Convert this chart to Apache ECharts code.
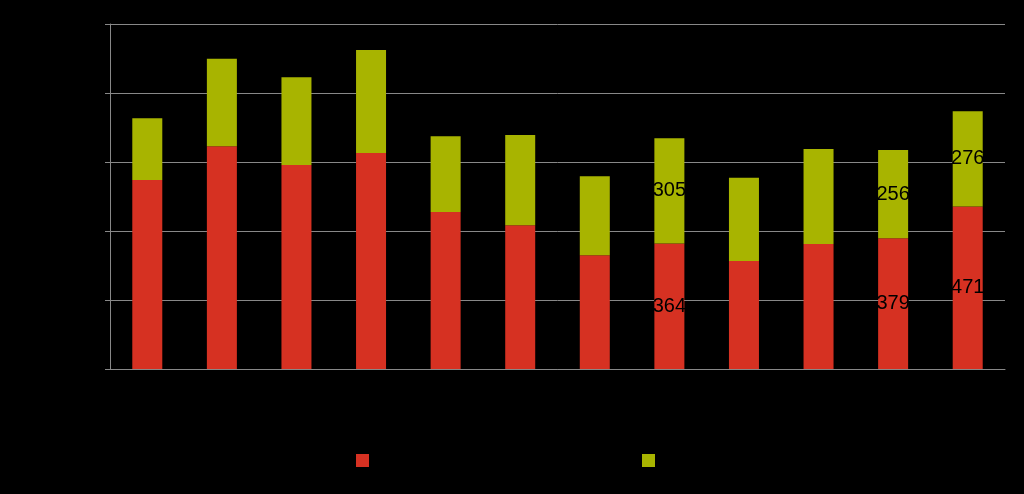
<!DOCTYPE html><html><head><meta charset="utf-8"><script src="https://cdn.jsdelivr.net/npm/echarts@6/dist/echarts.min.js"></script>
<style>html,body{margin:0;background:#000}#c{width:1024px;height:494px}</style></head><body><div id="c"></div><script>
const categories=['1','2','3','4','5','6','7','8','9','10','11','12'];
const redVals=[548,646,591,626,455,417,330,364,313,362,379,471];
const greenVals=[179,253,255,299,220,261,229,305,241,276,256,276];
const shownIdx=[7,10,11];
const lab=(vals)=>vals.map((v,i)=>({value:v,label:{show:shownIdx.includes(i)}}));
const c=echarts.init(document.getElementById('c'));
c.setOption({backgroundColor:'#000',animation:false,
grid:{left:110,right:19,top:24,bottom:125},
legend:{bottom:22,itemGap:260,itemWidth:13,itemHeight:13,icon:'rect',textStyle:{color:'#000'},data:['A','B']},
xAxis:{type:'category',data:categories,axisLine:{lineStyle:{color:'#888'}},axisTick:{alignWithLabel:true,lineStyle:{color:'#888'}},axisLabel:{color:'#000'}},
yAxis:{type:'value',min:0,max:1000,interval:200,axisLine:{show:true,lineStyle:{color:'#888'}},axisTick:{show:true,lineStyle:{color:'#888'}},axisLabel:{color:'#000'},splitLine:{lineStyle:{color:'#888'}}},
series:[
{name:'A',type:'bar',stack:'s',barWidth:30,data:lab(redVals),itemStyle:{color:'#d63122'},label:{position:'inside',color:'#000',fontSize:20}},
{name:'B',type:'bar',stack:'s',barWidth:30,data:lab(greenVals),itemStyle:{color:'#a8b400'},label:{position:'inside',color:'#000',fontSize:20}}
]});
</script></body></html>
